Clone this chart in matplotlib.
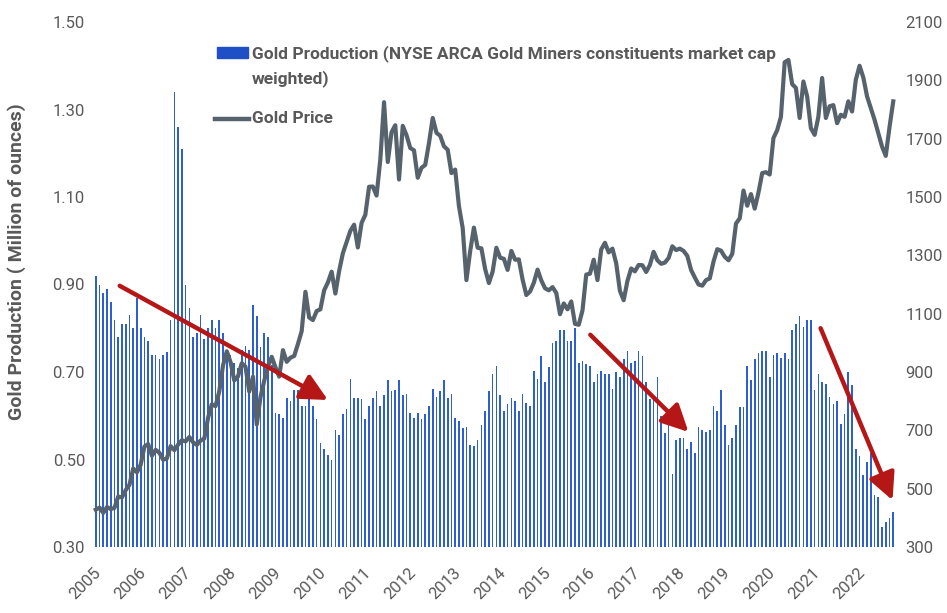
import matplotlib
matplotlib.use("Agg")
import matplotlib.pyplot as plt
import matplotlib.font_manager as fm
import matplotlib.transforms as mtransforms
from matplotlib.patches import Rectangle
from matplotlib.lines import Line2D
import numpy as np

# ---------------- data (monthly, Mar 2005 - Dec 2022) ----------------
production = [
    0.92, 0.90, 0.88, 0.89, 0.86, 0.82, 0.78, 0.81, 0.81, 0.83,
    0.80, 0.87, 0.80, 0.78, 0.77, 0.74, 0.74, 0.73, 0.74, 0.745,
    0.82, 1.34, 1.26, 1.21, 0.90, 0.846, 0.78, 0.79, 0.83, 0.776,
    0.80, 0.82, 0.80, 0.82, 0.79, 0.75, 0.74, 0.72, 0.71, 0.75,
    0.76, 0.75, 0.854, 0.828, 0.757, 0.79, 0.78, 0.715, 0.607, 0.604,
    0.596, 0.64, 0.633, 0.66, 0.66, 0.622, 0.622, 0.64, 0.622, 0.593,
    0.538, 0.523, 0.51, 0.50, 0.567, 0.557, 0.604, 0.615, 0.685, 0.64,
    0.64, 0.638, 0.593, 0.622, 0.64, 0.656, 0.622, 0.648, 0.682, 0.656,
    0.66, 0.682, 0.648, 0.65, 0.607, 0.596, 0.607, 0.593, 0.604, 0.622,
    0.662, 0.644, 0.656, 0.682, 0.64, 0.65, 0.596, 0.589, 0.571, 0.575,
    0.534, 0.53, 0.545, 0.578, 0.612, 0.656, 0.695, 0.714, 0.648, 0.612,
    0.626, 0.64, 0.633, 0.612, 0.65, 0.63, 0.622, 0.703, 0.685, 0.736,
    0.677, 0.711, 0.766, 0.772, 0.795, 0.795, 0.772, 0.772, 0.80, 0.721,
    0.725, 0.718, 0.714, 0.677, 0.695, 0.703, 0.695, 0.695, 0.662, 0.70,
    0.688, 0.729, 0.747, 0.721, 0.725, 0.747, 0.736, 0.677, 0.638, 0.638,
    0.688, 0.60, 0.56, 0.596, 0.468, 0.545, 0.549, 0.55, 0.525, 0.54,
    0.516, 0.575, 0.567, 0.564, 0.567, 0.622, 0.612, 0.66, 0.578, 0.533,
    0.55, 0.578, 0.62, 0.62, 0.714, 0.681, 0.729, 0.743, 0.747, 0.747,
    0.689, 0.74, 0.743, 0.733, 0.743, 0.729, 0.795, 0.81, 0.828, 0.802,
    0.82, 0.82, 0.66, 0.696, 0.677, 0.673, 0.644, 0.626, 0.634, 0.582,
    0.604, 0.70, 0.67, 0.523, 0.508, 0.465, 0.495, 0.514, 0.42, 0.414,
    0.346, 0.358, 0.366, 0.38,
]

gold_price = [
    428, 435, 417, 437, 430, 434, 473, 470, 495, 513,
    569, 556, 582, 644, 653, 613, 633, 623, 599, 604, 646, 632,
    651, 666, 662, 677, 659, 650, 665, 672, 743, 789, 783, 834,
    923, 971, 934, 871, 885, 930, 918, 833, 884, 720, 814, 870,
    919, 952, 916, 884, 975, 935, 949, 955, 996, 1040, 1175, 1087,
    1078, 1109, 1115, 1180, 1207, 1244, 1169, 1246, 1307, 1346, 1384, 1405,
    1327, 1411, 1439, 1535, 1536, 1505, 1628, 1825, 1620, 1722, 1746, 1560,
    1744, 1712, 1668, 1660, 1566, 1600, 1610, 1685, 1771, 1720, 1710, 1674,
    1662, 1582, 1594, 1469, 1394, 1215, 1314, 1395, 1326, 1324, 1253, 1205,
    1244, 1326, 1292, 1288, 1250, 1315, 1285, 1286, 1217, 1164, 1176, 1206,
    1251, 1214, 1187, 1180, 1191, 1171, 1098, 1135, 1115, 1142, 1065, 1062,
    1111, 1234, 1237, 1285, 1215, 1320, 1343, 1310, 1323, 1273, 1178, 1146,
    1212, 1255, 1245, 1267, 1266, 1243, 1267, 1312, 1283, 1271, 1275, 1291,
    1331, 1318, 1323, 1315, 1298, 1250, 1224, 1200, 1196, 1215, 1221, 1279,
    1321, 1316, 1295, 1283, 1305, 1409, 1427, 1522, 1470, 1510, 1460, 1515,
    1582, 1585, 1577, 1702, 1729, 1775, 1962, 1970, 1887, 1874, 1771, 1896,
    1845, 1736, 1713, 1775, 1908, 1771, 1811, 1815, 1753, 1782, 1775, 1828,
    1793, 1902, 1950, 1910, 1845, 1805, 1765, 1719, 1673, 1641, 1740, 1828,
]

years = [str(y) for y in range(2005, 2023)]
left_ticks = [0.30, 0.50, 0.70, 0.90, 1.10, 1.30, 1.50]
right_ticks = [300, 500, 700, 900, 1100, 1300, 1500, 1700, 1900, 2100]

legend_bar = "Gold Production (NYSE ARCA Gold Miners constituents market cap\nweighted)"
legend_line = "Gold Price"
ylabel = "Gold Production ( Million of ounces)"

# ---------------- fonts ----------------
def pick(names):
    for n in names:
        try:
            fm.findfont(fm.FontProperties(family=n), fallback_to_default=False)
            return n
        except Exception:
            pass
    return "DejaVu Sans"

FONT = pick(["Liberation Sans Narrow", "Roboto", "Open Sans"])
plt.rcParams["font.family"] = [FONT, "DejaVu Sans"]

GRAY = "#595959"
BAR = "#2d5fd2"
LINE = "#56636d"
RED = "#b51717"

W, H = 947, 613
fig = plt.figure(figsize=(W / 100, H / 100), dpi=100)
ax = fig.add_axes([92 / W, 66 / H, 805 / W, 525 / H])

x = np.arange(len(production))
ax.bar(x, production, width=0.45, color=BAR, zorder=2, linewidth=0)
ax.set_xlim(-1, len(production))
ax.set_ylim(0.30, 1.50)
ax.set_yticks(left_ticks)
ax.set_yticklabels([f"{v:.2f}" for v in left_ticks])
ax.set_xticks(x[::12])
ax.set_xticklabels(years, rotation=45, ha="right", va="center",
                   rotation_mode="anchor")
ax.tick_params(axis="y", length=0, pad=5, labelsize=12, labelcolor=GRAY)
ax.tick_params(axis="x", length=0, pad=17, labelsize=12, labelcolor=GRAY)
offset = mtransforms.ScaledTranslation(3 / 100, 0, fig.dpi_scale_trans)
for lab in ax.get_xticklabels():
    lab.set_transform(lab.get_transform() + offset)
for s in ax.spines.values():
    s.set_visible(False)

ax2 = ax.twinx()
xl = np.arange(len(gold_price))
ax2.plot(xl, gold_price, color=LINE, lw=3.0, solid_joinstyle="round", zorder=3)
ax2.set_ylim(300, 2100)
ax2.set_yticks(right_ticks)
ax2.set_yticklabels([str(v) for v in right_ticks])
ax2.tick_params(axis="y", length=0, pad=6, labelsize=12, labelcolor=GRAY)
for s in ax2.spines.values():
    s.set_visible(False)
ax2.set_xlim(ax.get_xlim())

# trend arrows
arrows = [((6.4, 0.897), (62.0, 0.636)),
          ((132.1, 0.785), (158.3, 0.563)),
          ((193.6, 0.80), (212.8, 0.407))]
for (x0, y0), (x1, y1) in arrows:
    ax2.annotate("", xy=(x1, y1), xytext=(x0, y0),
                 xycoords=ax.transData, textcoords=ax.transData,
                 arrowprops=dict(arrowstyle="-|>,head_length=0.9,head_width=0.45",
                                 color=RED, lw=3.2, shrinkA=0, shrinkB=0,
                                 mutation_scale=18),
                 zorder=5)

# legend (manual)
fig.patches.append(Rectangle((217 / W, 1 - 58 / H), 31 / W, 11 / H,
                             transform=fig.transFigure, color="#1f4fc6"))
fig.lines.append(Line2D([215 / W, 249 / W], [1 - 119 / H, 1 - 119 / H],
                        transform=fig.transFigure, color=LINE, lw=3.2))
fig.text(252 / W, 1 - 66 / H, legend_bar, ha="left", va="center",
         fontsize=12.5, fontweight="bold", color=GRAY, linespacing=1.55)
fig.text(252 / W, 1 - 119 / H, legend_line, ha="left", va="center",
         fontsize=12.5, fontweight="bold", color=GRAY)

fig.text(17 / W, 1 - 262 / H, ylabel, rotation=90, ha="center", va="center",
         fontsize=14, fontweight="bold", color=GRAY)

fig.savefig("out.png", dpi=100)
